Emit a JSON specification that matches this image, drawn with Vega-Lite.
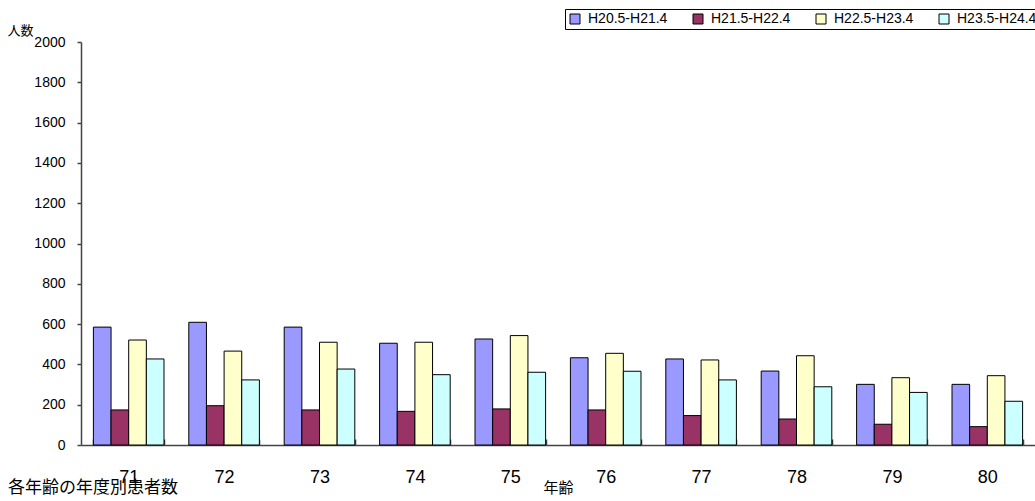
{
  "$schema": "https://vega.github.io/schema/vega-lite/v6.json",
  "autosize": {"type": "none"},
  "width": 954,
  "height": 403,
  "padding": {"left": 81, "top": 42, "right": 0, "bottom": 56},
  "background": "white",
  "config": {
    "view": {"stroke": null},
    "font": "Liberation Sans, Noto Sans CJK JP"
  },
  "title": {
    "text": "各年齢の年度別患者数",
    "orient": "bottom",
    "anchor": "start",
    "frame": "group",
    "dx": -73,
    "dy": -15,
    "offset": 0,
    "fontSize": 17,
    "fontWeight": "normal",
    "color": "black",
    "font": "Noto Sans CJK JP"
  },
  "data": {
    "values": [
      {"age": "71", "period": "H20.5-H21.4", "count": 585},
      {"age": "71", "period": "H21.5-H22.4", "count": 174},
      {"age": "71", "period": "H22.5-H23.4", "count": 521},
      {"age": "71", "period": "H23.5-H24.4", "count": 427},
      {"age": "72", "period": "H20.5-H21.4", "count": 609},
      {"age": "72", "period": "H21.5-H22.4", "count": 195},
      {"age": "72", "period": "H22.5-H23.4", "count": 466},
      {"age": "72", "period": "H23.5-H24.4", "count": 323},
      {"age": "73", "period": "H20.5-H21.4", "count": 585},
      {"age": "73", "period": "H21.5-H22.4", "count": 174},
      {"age": "73", "period": "H22.5-H23.4", "count": 510},
      {"age": "73", "period": "H23.5-H24.4", "count": 377},
      {"age": "74", "period": "H20.5-H21.4", "count": 505},
      {"age": "74", "period": "H21.5-H22.4", "count": 167},
      {"age": "74", "period": "H22.5-H23.4", "count": 510},
      {"age": "74", "period": "H23.5-H24.4", "count": 349},
      {"age": "75", "period": "H20.5-H21.4", "count": 526},
      {"age": "75", "period": "H21.5-H22.4", "count": 179},
      {"age": "75", "period": "H22.5-H23.4", "count": 543},
      {"age": "75", "period": "H23.5-H24.4", "count": 361},
      {"age": "76", "period": "H20.5-H21.4", "count": 433},
      {"age": "76", "period": "H21.5-H22.4", "count": 174},
      {"age": "76", "period": "H22.5-H23.4", "count": 455},
      {"age": "76", "period": "H23.5-H24.4", "count": 366},
      {"age": "77", "period": "H20.5-H21.4", "count": 427},
      {"age": "77", "period": "H21.5-H22.4", "count": 146},
      {"age": "77", "period": "H22.5-H23.4", "count": 422},
      {"age": "77", "period": "H23.5-H24.4", "count": 323},
      {"age": "78", "period": "H20.5-H21.4", "count": 367},
      {"age": "78", "period": "H21.5-H22.4", "count": 129},
      {"age": "78", "period": "H22.5-H23.4", "count": 443},
      {"age": "78", "period": "H23.5-H24.4", "count": 289},
      {"age": "79", "period": "H20.5-H21.4", "count": 301},
      {"age": "79", "period": "H21.5-H22.4", "count": 103},
      {"age": "79", "period": "H22.5-H23.4", "count": 334},
      {"age": "79", "period": "H23.5-H24.4", "count": 261},
      {"age": "80", "period": "H20.5-H21.4", "count": 301},
      {"age": "80", "period": "H21.5-H22.4", "count": 91},
      {"age": "80", "period": "H22.5-H23.4", "count": 344},
      {"age": "80", "period": "H23.5-H24.4", "count": 217}
    ]
  },
  "mark": {"type": "bar", "stroke": "black", "strokeWidth": 1},
  "encoding": {
    "x": {
      "field": "age",
      "type": "nominal",
      "sort": null,
      "scale": {"paddingInner": 0.26, "paddingOuter": 0.13},
      "axis": {
        "title": "年齢",
        "titleFont": "Noto Sans CJK JP",
        "titleFontSize": 15,
        "titleFontWeight": "normal",
        "titleColor": "black",
        "titleAnchor": "start",
        "titleAlign": "left",
        "titleBaseline": "middle",
        "titleX": 462,
        "titleY": 42,
        "labelAngle": 0,
        "labelFontSize": 18,
        "labelColor": "black",
        "labelBaseline": "alphabetic",
        "labelPadding": 43,
        "tickBand": "extent",
        "tickSize": -6,
        "tickWidth": 1.5,
        "tickColor": "#444444",
        "domainColor": "#444444",
        "domainWidth": 1.5
      }
    },
    "xOffset": {"field": "period", "type": "nominal", "sort": null},
    "y": {
      "field": "count",
      "type": "quantitative",
      "scale": {"domain": [0, 2000], "nice": false},
      "axis": {
        "values": [0, 200, 400, 600, 800, 1000, 1200, 1400, 1600, 1800, 2000],
        "format": "d",
        "grid": false,
        "title": "人数",
        "titleFont": "Noto Sans CJK JP",
        "titleFontSize": 13,
        "titleFontWeight": "normal",
        "titleColor": "black",
        "titleAngle": 0,
        "titleAlign": "left",
        "titleBaseline": "middle",
        "titleAnchor": "start",
        "titleX": -74,
        "titleY": -12,
        "labelFontSize": 14,
        "labelColor": "black",
        "labelPadding": 12,
        "tickSize": 4,
        "tickWidth": 1.5,
        "tickColor": "#444444",
        "domainColor": "#444444",
        "domainWidth": 1.5
      }
    },
    "fill": {
      "field": "period",
      "type": "nominal",
      "sort": null,
      "scale": {
        "domain": ["H20.5-H21.4", "H21.5-H22.4", "H22.5-H23.4", "H23.5-H24.4"],
        "range": ["#9999FF", "#993366", "#FFFFCC", "#CCFFFF"]
      },
      "legend": {
        "title": null,
        "orient": "none",
        "legendX": 484,
        "legendY": -33,
        "direction": "horizontal",
        "columns": 4,
        "symbolType": "square",
        "symbolSize": 100,
        "symbolStrokeColor": "black",
        "symbolStrokeWidth": 1,
        "labelFontSize": 14,
        "labelColor": "black",
        "labelOffset": 6,
        "columnPadding": 23,
        "strokeColor": "black",
        "padding": 3
      }
    }
  }
}
